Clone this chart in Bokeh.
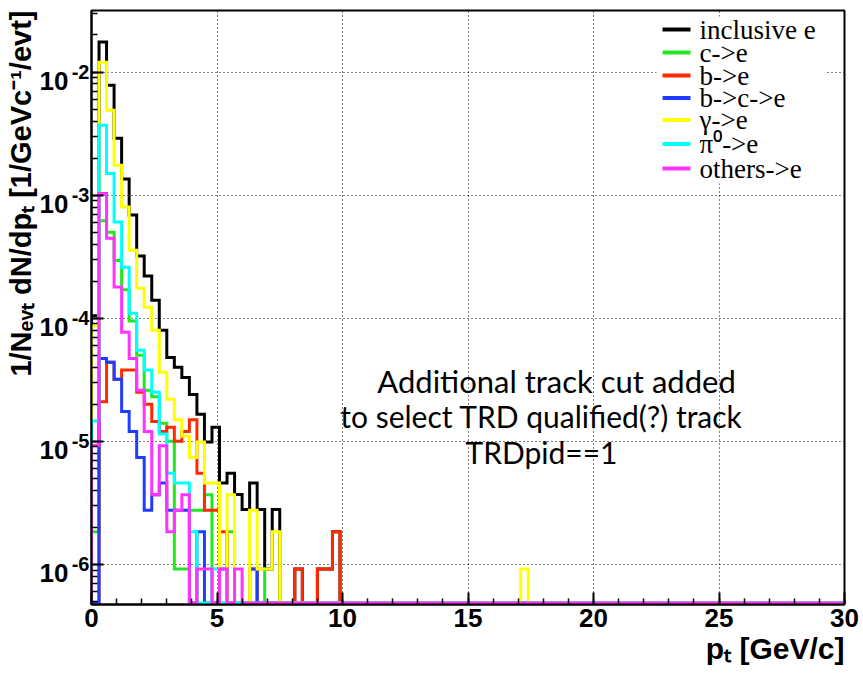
import math
from bokeh.plotting import figure
from bokeh.models import (Label, FixedTicker, LogTicker, CustomJSTickFormatter, LogAxis,
                          Range1d, LogScale, Title, BoxAnnotation)
from bokeh.embed import file_html
from bokeh.resources import INLINE

# ---------------- data (1/N_evt dN/dpt, bins of 0.3 GeV/c starting at 0) ----------------
BIN_WIDTH = 0.3
N_BINS = 100

inclusive_e = [1.05e-4, 1.75e-2, 7.8e-3, 2.9e-3, 1.35e-3, 6.9e-4, 3.2e-4, 2.2e-4, 1.4e-4, 8.0e-5,
               4.8e-5, 4.0e-5, 3.3e-5, 2.4e-5, 1.66e-5, 9.9e-6, 1.3e-5, 4.6e-6, 5.5e-6, 3.7e-6,
               2.8e-6, 4.6e-6, 2.8e-6, 9.2e-7, 2.8e-6, 0, 0, 9.2e-7, 0, 0,
               9.2e-7, 9.2e-7, 1.84e-6, 0]
c_e = [1.84e-6, 6.2e-4, 5.0e-4, 2.95e-4, 1.7e-4, 9.5e-5, 5.0e-5, 2.6e-5, 2.3e-5, 1.4e-5,
       1.0e-5, 9.2e-7, 9.2e-7, 2.76e-6, 2.76e-6, 3.68e-6, 0, 0, 1.84e-6, 0,
       0, 0, 9.2e-7, 0]
b_e = [0, 2.1e-5, 4.4e-5, 3.2e-5, 3.8e-5, 3.8e-5, 2.5e-5, 2.0e-5, 1.45e-5, 1.2e-5,
       1.3e-5, 1.0e-5, 1.2e-5, 1.5e-5, 5.5e-6, 2.76e-6, 2.76e-6, 1.84e-6, 0, 0,
       0, 9.2e-7, 0, 0, 0, 0, 0, 9.2e-7, 0, 0,
       9.2e-7, 9.2e-7, 1.84e-6, 0]
bc_e = [0, 4.7e-5, 4.4e-5, 3.2e-5, 1.75e-5, 1.2e-5, 7.4e-6, 2.76e-6, 3.68e-6, 4.6e-6,
        2.76e-6, 2.76e-6, 2.76e-6, 0, 1.84e-6, 0, 0, 9.2e-7, 0, 0,
        0, 9.2e-7, 0]
gamma_e = [8.7e-5, 1.2e-2, 4.9e-3, 1.75e-3, 8.0e-4, 3.56e-4, 1.75e-4, 1.23e-4, 8.0e-5, 3.65e-5,
           2.2e-5, 1.5e-5, 1.1e-5, 7.4e-6, 9.9e-6, 4.6e-6, 4.6e-6, 0, 3.68e-6, 0,
           0, 2.76e-6, 9.2e-7, 9.2e-7, 1.84e-6, 0]
gamma_tail_bins = [57]
gamma_tail_vals = [9.2e-7]
pi0_e = [1.46e-5, 3.7e-3, 1.5e-3, 6.05e-4, 2.6e-4, 1.1e-4, 5.5e-5, 3.8e-5, 2.5e-5, 1.15e-5,
         5.5e-6, 4.6e-6, 4.6e-6, 1.84e-6, 0, 0, 9.2e-7, 0]
others_e = [9.3e-6, 1.03e-3, 4.46e-4, 1.79e-4, 7.7e-5, 4.7e-5, 2.6e-5, 1.2e-5, 3.68e-6, 9.2e-6,
            1.84e-6, 2.76e-6, 3.68e-6, 0, 9.2e-7, 9.2e-7, 0, 9.2e-7, 0, 9.2e-7]

series_names = ["inclusive e", "c->e", "b->e", "b->c->e", "\u03b3->e", "\u03c0\u2070->e", "others->e"]
series_colors = ["#000000", "#22e622", "#ff2a00", "#1f3dff", "#ffff00", "#00ffff", "#ff33ff"]

X_MIN, X_MAX = 0.0, 30.0
Y_MIN, Y_MAX = 4.73e-7, 3.16e-2
x_major = [0, 5, 10, 15, 20, 25, 30]
x_minor = list(range(0, 31))
x_grid = [5, 10, 15, 20, 25]

note_lines = ["Additional track cut added", "to select TRD qualified(?) track", "TRDpid==1"]
x_title = "p\u209c [GeV/c]"
y_title = "1/N\u2091\u1d65\u209c dN/dp\u209c [1/GeVc\u207b\u00b9/evt]"

# ---------------- geometry (pixels of the 863x674 canvas) ----------------
W, H = 863, 674
FRAME_L, FRAME_R, FRAME_T, FRAME_B = 91, 844, 10, 604
LY0, LY1 = math.log10(Y_MIN), math.log10(Y_MAX)


def xd(px):
    return X_MIN + (px - FRAME_L) * (X_MAX - X_MIN) / (FRAME_R - FRAME_L)


def yd(py):
    return 10 ** (LY1 - (py - FRAME_T) * (LY1 - LY0) / (FRAME_B - FRAME_T))


p = figure(width=W, height=H, x_range=(X_MIN, X_MAX), y_range=(Y_MIN, Y_MAX),
           y_axis_type="log", output_backend="svg", toolbar_location=None,
           min_border_left=FRAME_L, min_border_right=W - FRAME_R,
           min_border_top=FRAME_T, min_border_bottom=H - FRAME_B)
p.outline_line_color = "black"
p.outline_line_width = 2
p.background_fill_color = "white"
p.border_fill_color = "white"

ZERO_LEVEL = Y_MIN * 1.03


def full(vals, extra_bins=(), extra_vals=()):
    v = list(vals) + [0.0] * (N_BINS - len(vals))
    for b, e in zip(extra_bins, extra_vals):
        v[b] = e
    return v


def step_coords(vals):
    xs, ys = [X_MIN], [ZERO_LEVEL]
    for i, v in enumerate(vals):
        lvl = v if v > 0 else ZERO_LEVEL
        xs += [i * BIN_WIDTH, (i + 1) * BIN_WIDTH]
        ys += [lvl, lvl]
    xs.append(N_BINS * BIN_WIDTH)
    ys.append(ZERO_LEVEL)
    return xs, ys


all_series = [full(inclusive_e), full(c_e), full(b_e), full(bc_e),
              full(gamma_e, gamma_tail_bins, gamma_tail_vals), full(pi0_e), full(others_e)]

for vals, col in zip(all_series, series_colors):
    xs, ys = step_coords(vals)
    p.line(xs, ys, line_color=col, line_width=3, line_join="miter")

FONT = "Liberation Sans"

# ---------------- axes ----------------
p.xaxis.ticker = FixedTicker(ticks=x_major, minor_ticks=x_minor)
p.yaxis.ticker = LogTicker(num_minor_ticks=10)
for ax in (p.xaxis, p.yaxis):
    ax.axis_line_color = "black"
    ax.axis_line_width = 2
    ax.major_tick_in = 12
    ax.major_tick_out = 0
    ax.minor_tick_in = 6
    ax.minor_tick_out = 0
    ax.major_tick_line_width = 2
    ax.minor_tick_line_width = 1.5
    ax.major_tick_line_color = "black"
    ax.minor_tick_line_color = "black"

p.xaxis.major_label_text_font = FONT
p.xaxis.major_label_text_font_style = "bold"
p.xaxis.major_label_text_font_size = "26px"
p.xaxis.major_label_text_color = "black"
p.xaxis.major_label_standoff = 4

# exponent labels (inner left axis)
p.yaxis.formatter = CustomJSTickFormatter(code="return String(Math.round(Math.log10(tick)))")
p.yaxis.major_label_text_font = FONT
p.yaxis.major_label_text_font_style = "bold"
p.yaxis.major_label_text_font_size = "20px"
p.yaxis.major_label_text_color = "black"
p.yaxis.major_label_text_baseline = "middle"
p.yaxis.major_label_standoff = 2

# mantissa labels "10" (outer left axis, drawn slightly lower than the exponent)
shift = 10 ** (8.5 * (LY1 - LY0) / (FRAME_B - FRAME_T))
p.extra_y_ranges = {"lab": Range1d(Y_MIN * shift, Y_MAX * shift)}
p.extra_y_scales = {"lab": LogScale()}
ax10 = LogAxis(y_range_name="lab", ticker=LogTicker(num_minor_ticks=0),
               formatter=CustomJSTickFormatter(code="return '10'"))
ax10.axis_line_alpha = 0
ax10.major_tick_in = 0
ax10.major_tick_out = 0
ax10.minor_tick_in = 0
ax10.minor_tick_out = 0
ax10.major_label_text_font = FONT
ax10.major_label_text_font_style = "bold"
ax10.major_label_text_font_size = "26px"
ax10.major_label_text_color = "black"
ax10.major_label_standoff = 0
p.add_layout(ax10, "left")

p.xgrid.ticker = FixedTicker(ticks=x_grid)
for g in (p.xgrid, p.ygrid):
    g.grid_line_color = "black"
    g.grid_line_dash = "1 3"
    g.grid_line_width = 1

# axis titles
p.add_layout(Title(text=y_title, align="right", text_font=FONT, text_font_style="bold",
                   text_font_size="29px", text_color="black", standoff=0, offset=0), "left")
p.add_layout(Title(text=x_title, align="right", text_font=FONT, text_font_style="bold",
                   text_font_size="30px", text_color="black", standoff=0, offset=0), "below")

# annotation text
note_pos = [(556, 380), (541, 415), (541, 451)]
note_size = ["31px", "30px", "30px"]
for txt, (cx, cy), fs in zip(note_lines, note_pos, note_size):
    p.add_layout(Label(x=xd(cx), y=yd(cy), text=txt, text_align="center", text_baseline="middle",
                       text_font="Lato", text_font_size=fs, text_color="black"))

# legend (white box, coloured keys, serif labels)
p.add_layout(BoxAnnotation(left=xd(656), right=xd(826), top=yd(16), bottom=yd(183),
                           fill_color="white", fill_alpha=1.0, line_alpha=0))
leg_rows = [29, 52, 75, 97.5, 119.5, 143.5, 168]
for name, col, ry in zip(series_names, series_colors, leg_rows):
    p.segment(x0=[xd(662)], x1=[xd(690)], y0=[yd(ry)], y1=[yd(ry)], line_color=col,
              line_width=4, level="overlay")
    p.add_layout(Label(x=xd(699), y=yd(ry), text=name, text_align="left", text_baseline="middle",
                       text_font="Liberation Serif", text_font_size="27px", text_color="black"))

open("out.html", "w").write(file_html(p, INLINE))
